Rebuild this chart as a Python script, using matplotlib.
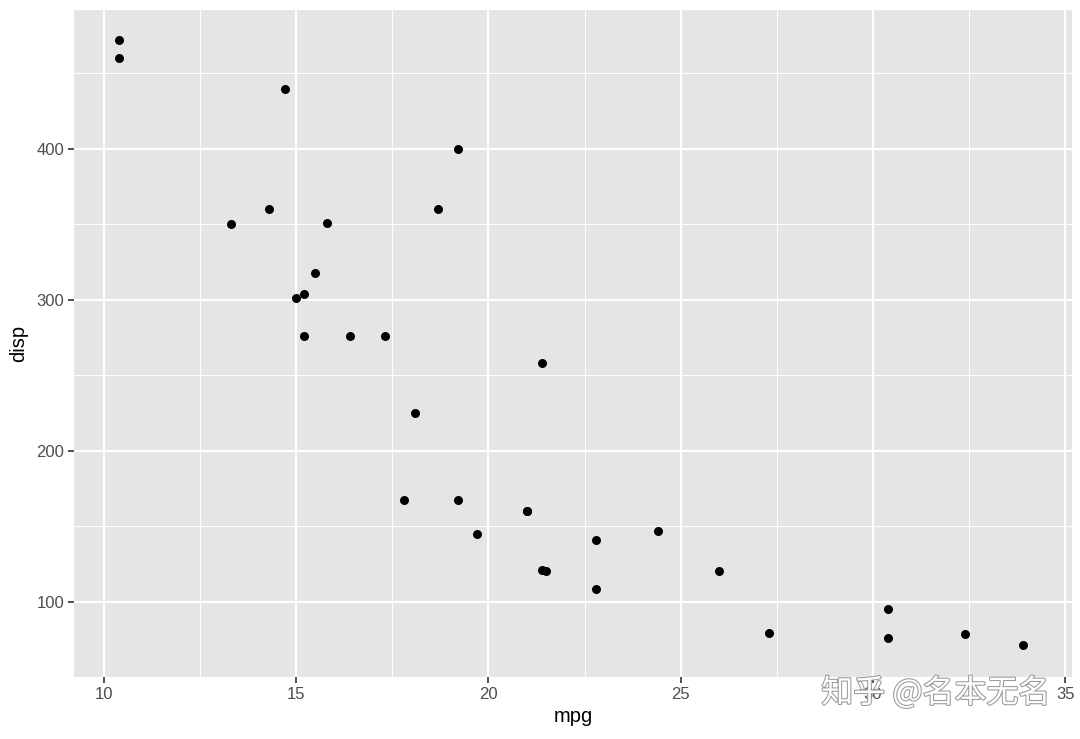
import matplotlib
matplotlib.use("Agg")
import matplotlib.pyplot as plt
import matplotlib.patheffects as pe
import numpy as np

plt.rcParams['font.family'] = ['Liberation Sans', 'DejaVu Sans']

# mtcars: mpg vs disp
mpg = [21.0, 21.0, 22.8, 21.4, 18.7, 18.1, 14.3, 24.4, 22.8, 19.2, 17.8,
       16.4, 17.3, 15.2, 10.4, 10.4, 14.7, 32.4, 30.4, 33.9, 21.5, 15.5,
       15.2, 13.3, 19.2, 27.3, 26.0, 30.4, 15.8, 19.7, 15.0, 21.4]
disp = [160, 160, 108, 258, 360, 225, 360, 146.7, 140.8, 167.6, 167.6,
        275.8, 275.8, 275.8, 472, 460, 440, 78.7, 75.7, 71.1, 120.1, 318,
        304, 350, 400, 79, 120.3, 95.1, 351, 145, 301, 121]
x_ticks = [10, 15, 20, 25, 30, 35]
y_ticks = [100, 200, 300, 400]

fig = plt.figure(figsize=(10.8, 7.39), dpi=100)
ax = fig.add_axes([74/1080, 1 - 677/739, (1072 - 74)/1080, (677 - 10)/739])
ax.set_facecolor('#e5e5e5')

# ggplot style expansion (5%)
xr = max(mpg) - min(mpg)
yr = max(disp) - min(disp)
ax.set_xlim(min(mpg) - 0.05*xr, max(mpg) + 0.05*xr + 0.1)
ax.set_ylim(min(disp) - 0.05*yr, max(disp) + 0.05*yr)

ax.set_xticks(x_ticks)
ax.set_yticks(y_ticks)
ax.set_xticks([12.5, 17.5, 22.5, 27.5, 32.5], minor=True)
ax.set_yticks([50, 150, 250, 350, 450], minor=True)
ax.grid(which='major', color='white', linewidth=1.6)
ax.grid(which='minor', color='white', linewidth=0.7)
ax.set_axisbelow(True)
for s in ax.spines.values():
    s.set_visible(False)
ax.tick_params(which='major', length=4, width=1.2, color='#333333',
               labelsize=12, labelcolor='#4d4d4d', pad=3)
ax.tick_params(which='minor', length=0)

ax.scatter(mpg, disp, s=42, color='black', zorder=3, linewidths=0)

ax.set_xlabel('mpg', fontsize=14.5, labelpad=4)
ax.set_ylabel('disp', fontsize=14.5, labelpad=6)

# watermark
fig.text(936/1080, 1 - 693/739, '知乎 @名本无名', fontsize=23, color='white',
         ha='center', va='center', family=['Noto Sans CJK SC', 'DejaVu Sans'],
         path_effects=[pe.withStroke(linewidth=1.5, foreground='#999999')],
         zorder=10)

fig.savefig('out.png', dpi=100)
